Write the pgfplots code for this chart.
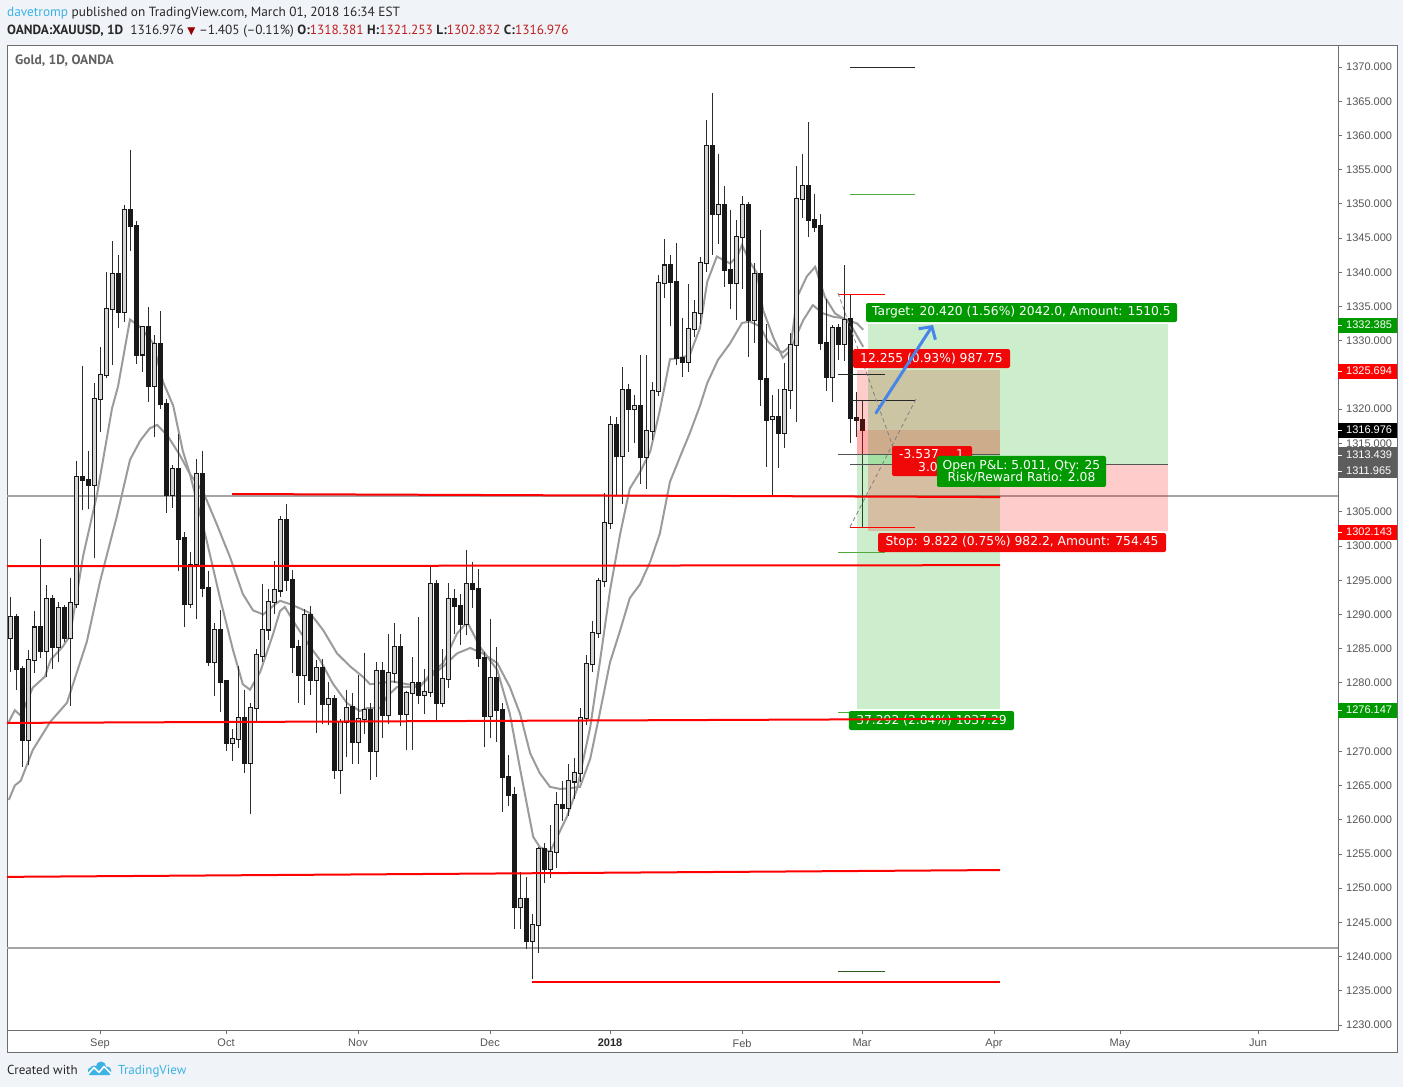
\documentclass[border=0pt]{standalone}
\usepackage{pgfplots}
\pgfplotsset{compat=1.18}
\usepackage{pgfplotstable}
\usepackage{fontspec}
\setmainfont{Liberation Sans}
\newfontfamily\ptsans{PT Sans}
\newfontfamily\dejavu{DejaVu Sans}
\usetikzlibrary{arrows.meta}

\definecolor{bgc}{RGB}{240,243,247}
\definecolor{framec}{RGB}{110,110,110}
\definecolor{tickc}{RGB}{85,85,85}
\definecolor{upfill}{RGB}{212,212,212}
\definecolor{candleline}{RGB}{25,25,25}
\definecolor{wickc}{RGB}{45,45,45}
\definecolor{mac}{RGB}{155,155,155}
\definecolor{hlinegray}{RGB}{165,165,165}
\definecolor{tvred}{RGB}{255,0,0}
\definecolor{tvgreen}{RGB}{0,153,0}
\definecolor{lblred}{RGB}{240,8,8}
\definecolor{shadegreen}{RGB}{0,170,0}
\definecolor{arrowblue}{RGB}{72,133,232}
\definecolor{tvblue}{RGB}{59,179,228}
\definecolor{hdr}{RGB}{40,40,40}
\definecolor{pricered}{RGB}{190,30,30}
\definecolor{darkred}{RGB}{150,0,0}
\definecolor{darkgraylbl}{RGB}{93,93,93}
\definecolor{mkgreen}{RGB}{80,170,60}
\definecolor{mkolive}{RGB}{120,90,0}
\definecolor{mkdkgreen}{RGB}{45,90,30}

\newcommand{\axfont}{\fontsize{11}{12}\selectfont}
\newcommand{\lblfont}{\dejavu\fontsize{12.3}{13.5}\selectfont}
\tikzset{lbl/.style={rounded corners=2pt, text=white, font=\lblfont, minimum height=19pt, inner sep=0pt, anchor=center}}
\pgfplotsset{candle/.style={only marks, mark=*, mark size=0pt, mark options={draw=none, fill=none}}}

\pgfplotstableread{
i o h l c
0 1286.6 1292.6 1281.6 1289.6
1 1289.6 1290.1 1279.0 1282.0
2 1282.0 1282.5 1267.7 1271.6
3 1271.6 1284.8 1268.0 1283.3
4 1283.3 1290.5 1281.5 1288.1
5 1288.1 1301.1 1283.7 1284.7
6 1284.7 1294.3 1280.9 1292.2
7 1292.2 1292.8 1282.0 1285.2
8 1285.2 1291.8 1283.1 1290.9
9 1290.9 1291.4 1286.0 1286.6
10 1286.6 1295.3 1276.6 1291.6
11 1291.6 1312.4 1291.0 1310.1
12 1310.1 1326.3 1305.3 1309.7
13 1309.7 1313.9 1305.4 1308.9
14 1308.9 1323.8 1298.2 1321.5
15 1321.5 1329.1 1316.7 1325.0
16 1325.0 1340.0 1324.5 1334.7
17 1334.7 1344.5 1326.5 1339.7
18 1339.7 1342.6 1331.8 1334.2
19 1334.2 1349.8 1332.8 1349.1
20 1349.1 1357.8 1343.1 1346.8
21 1346.8 1347.5 1326.6 1328.0
22 1328.0 1332.2 1325.5 1332.0
23 1332.0 1335.0 1321.1 1323.4
24 1323.4 1330.9 1315.9 1329.5
25 1329.5 1334.4 1320.1 1320.7
26 1320.7 1321.5 1304.9 1307.4
27 1307.4 1311.8 1305.5 1311.2
28 1311.2 1316.4 1296.3 1301.1
29 1301.1 1302.0 1288.2 1291.5
30 1291.5 1299.1 1291.0 1297.3
31 1297.3 1312.7 1289.4 1310.5
32 1310.5 1313.9 1292.5 1293.9
33 1293.9 1296.3 1282.5 1283.0
34 1283.0 1288.7 1278.1 1287.7
35 1287.7 1290.6 1275.8 1280.2
36 1280.2 1280.5 1270.0 1271.2
37 1271.2 1273.2 1268.6 1271.8
38 1271.8 1282.5 1270.5 1274.8
39 1274.8 1279.0 1266.8 1268.3
40 1268.3 1277.0 1260.9 1276.4
41 1276.4 1285.0 1274.5 1284.0
42 1284.0 1294.5 1283.0 1287.8
43 1287.8 1293.7 1286.3 1291.8
44 1291.8 1297.8 1290.0 1293.5
45 1293.5 1304.4 1292.5 1303.8
46 1303.8 1306.1 1293.5 1295.1
47 1295.1 1296.5 1281.5 1285.2
48 1285.2 1286.3 1277.1 1281.1
49 1281.1 1290.8 1276.8 1289.9
50 1289.9 1291.2 1278.2 1280.4
51 1280.4 1283.4 1272.7 1282.1
52 1282.1 1283.5 1274.0 1276.9
53 1276.9 1280.2 1273.8 1277.6
54 1277.6 1278.2 1266.0 1267.3
55 1267.3 1274.8 1263.8 1274.3
56 1274.3 1279.0 1269.2 1276.4
57 1276.4 1278.5 1268.1 1271.4
58 1271.4 1281.2 1268.2 1274.7
59 1274.7 1284.3 1272.5 1276.0
60 1276.0 1277.0 1265.8 1270.0
61 1270.0 1283.1 1266.3 1281.8
62 1281.8 1283.1 1272.0 1275.3
63 1275.3 1287.2 1274.0 1281.5
64 1281.5 1288.7 1280.0 1285.2
65 1285.2 1287.2 1273.7 1275.4
66 1275.4 1278.8 1270.2 1278.5
67 1278.5 1283.8 1270.2 1280.0
68 1280.0 1289.6 1276.9 1278.2
69 1278.2 1282.0 1275.5 1278.7
70 1278.7 1297.1 1278.0 1294.4
71 1294.4 1295.0 1274.6 1277.0
72 1277.0 1284.9 1276.5 1280.5
73 1280.5 1294.6 1279.3 1292.2
74 1292.2 1293.7 1287.2 1291.2
75 1291.2 1293.0 1285.5 1288.6
76 1288.6 1299.4 1287.0 1294.4
77 1294.4 1297.7 1290.9 1293.7
78 1293.7 1296.7 1282.3 1283.7
79 1283.7 1284.5 1270.6 1275.2
80 1275.2 1289.3 1272.0 1280.7
81 1280.7 1285.3 1271.4 1276.1
82 1276.1 1277.0 1261.2 1266.2
83 1266.2 1269.5 1262.0 1263.6
84 1263.6 1264.8 1244.1 1247.2
85 1247.2 1252.4 1244.1 1248.4
86 1248.4 1251.7 1241.1 1242.3
87 1242.3 1246.3 1236.7 1244.6
88 1244.6 1256.0 1240.5 1255.7
89 1255.7 1256.6 1250.7 1252.8
90 1252.8 1259.2 1251.5 1255.3
91 1255.3 1264.1 1252.9 1262.1
92 1262.1 1265.6 1259.8 1261.7
93 1261.7 1268.1 1260.5 1265.6
94 1265.6 1269.0 1263.1 1266.8
95 1266.8 1276.4 1265.5 1274.9
96 1274.9 1284.0 1273.9 1282.8
97 1282.8 1289.1 1281.6 1287.3
98 1287.3 1295.4 1286.5 1294.9
99 1294.9 1307.8 1294.0 1303.4
100 1303.4 1319.0 1302.5 1317.7
101 1317.7 1318.8 1307.4 1313.2
102 1313.2 1326.2 1306.1 1322.8
103 1322.8 1323.7 1313.8 1320.0
104 1320.0 1322.0 1315.0 1320.4
105 1320.4 1327.9 1309.1 1313.0
106 1313.0 1327.9 1308.4 1316.8
107 1316.8 1324.0 1315.5 1322.7
108 1322.7 1339.6 1321.9 1338.5
109 1338.5 1344.9 1336.3 1341.0
110 1341.0 1342.6 1332.2 1338.6
111 1338.6 1344.3 1326.5 1327.5
112 1327.5 1333.4 1324.7 1326.9
113 1326.9 1338.3 1325.5 1331.7
114 1331.7 1335.9 1330.5 1334.0
115 1334.0 1342.3 1332.5 1341.3
116 1341.3 1362.2 1340.0 1358.5
117 1358.5 1366.2 1342.6 1348.5
118 1348.5 1357.3 1344.2 1349.8
119 1349.8 1352.6 1337.8 1340.4
120 1340.4 1349.1 1334.6 1338.5
121 1338.5 1347.6 1333.1 1345.1
122 1345.1 1351.1 1337.5 1349.8
123 1349.8 1350.3 1327.6 1333.1
124 1333.1 1341.4 1329.6 1339.7
125 1339.7 1346.2 1320.4 1324.4
126 1324.4 1332.4 1311.5 1318.5
127 1318.5 1322.1 1307.3 1318.8
128 1318.8 1322.9 1311.4 1316.5
129 1316.5 1326.7 1314.4 1322.8
130 1322.8 1331.2 1320.0 1329.4
131 1329.4 1355.5 1318.2 1350.7
132 1350.7 1357.3 1348.0 1352.6
133 1352.6 1361.9 1345.1 1347.6
134 1347.6 1351.4 1345.9 1346.7
135 1346.7 1348.5 1328.7 1329.6
136 1329.6 1336.1 1322.6 1324.7
137 1324.7 1332.3 1321.1 1331.8
138 1331.8 1332.4 1327.2 1329.6
139 1329.6 1341.1 1327.0 1333.1
140 1333.1 1336.7 1315.0 1318.7
141 1318.7 1322.5 1315.9 1318.4
142 1318.381 1321.253 1302.832 1316.976
}\candles

\begin{document}
\begin{tikzpicture}
\useasboundingbox (0pt,0pt) rectangle (1403pt,-1087pt);
\begin{scope}[x=1pt,y=-1pt]
  \fill[bgc] (0,0) rectangle (1403,1087);
  \fill[white] (7,45) rectangle (1397,1052);
  \draw[framec, line width=0.8pt] (7,45) rectangle (1397,1052);
\end{scope}

\begin{axis}[
  at={(7pt,-1030pt)}, anchor=south west,
  width=1331pt, height=985pt, scale only axis,
  xmin=-0.5, xmax=221.333, ymin=1229.27, ymax=1373.215,
  clip=false,
  axis line style={draw=framec, line width=0.8pt},
  tick align=outside, major tick length=4pt,
  tick style={draw=framec, line width=0.8pt},
  ytick={1230,1235,...,1270,1280,1285,...,1305,1315,1320,1330,1335,...,1370},
  extra y ticks={1275,1310,1325},
  extra y tick labels={},
  ytick pos=right, yticklabel pos=right,
  yticklabel style={font=\axfont, text=tickc, anchor=west, inner sep=0pt, xshift=4pt,
    /pgf/number format/fixed, /pgf/number format/fixed zerofill,
    /pgf/number format/precision=3, /pgf/number format/1000 sep={},
    /pgf/number format/assume math mode=true},
  xtick={15,36,58,80,100,122,142,164,185,208},
  xticklabels={Sep,Oct,Nov,Dec,\textbf{\textcolor{hdr}{2018}},Feb,Mar,Apr,May,Jun},
  xtick pos=bottom,
  xticklabel style={font=\axfont, text=tickc, anchor=north, inner sep=0pt, yshift=-5pt},
]
% horizontal gray levels
\addplot[hlinegray, line width=2pt] coordinates {(-0.5,1307.25) (221.333,1307.25)};
\addplot[hlinegray, line width=2pt] coordinates {(-0.5,1241.3) (221.333,1241.3)};

% moving averages
\addplot[mac, line width=2pt] coordinates {
(-0.2,1262.9) (0.8,1265.0) (1.8,1265.7) (3.8,1270.2) (6.7,1274.3) (9.5,1277.1) (12.8,1286.0) (15,1294.8) (17.8,1304.3) (20,1312.6) (21.7,1315.4) (23.3,1317.2) (24.5,1317.7) (26.2,1316.2) (28.3,1313.3) (30,1310.5) (32.2,1307.9) (34.5,1303.1) (36.7,1298.3) (38.8,1293.0) (40.5,1290.6) (42.2,1290.0) (43.8,1291.2) (45,1292.0) (46.7,1291.5) (48.3,1290.9) (50,1290.2) (52.2,1287.7) (54.5,1284.3) (56.7,1282.4) (58.8,1280.9) (60,1279.8) (63.8,1280.2) (66.2,1279.8) (68.3,1279.6) (70.5,1281.2) (72.2,1282.4) (74.5,1284.3) (76.7,1285.1) (78.8,1284.3) (81.2,1282.9) (83.3,1279.4) (85,1275.5) (86.7,1269.7) (88.3,1266.8) (90,1264.8) (91.7,1264.5) (93.3,1264.6) (95,1264.8) (96.7,1268.9) (98.3,1275.6) (100,1283.0) (101.7,1287.7) (103.3,1292.4) (105,1294.4) (106.7,1297.7) (108.3,1301.8) (110,1309.4) (111.7,1313.1) (113.3,1316.5) (115,1320.5) (116.2,1323.8) (118,1327.2) (120,1329.6) (122,1332.6) (123.3,1332.8) (125,1332.1) (126.3,1329.9) (127.8,1328.7) (128.8,1328.3) (130.5,1329.6) (132.2,1333.0) (133.8,1335.2) (135.5,1334.0) (137.2,1333.5) (138.8,1333.3) (141.2,1332.5) (142.2,1331.6)
};
\addplot[mac, line width=2pt] coordinates {
(-0.2,1274.3) (0.8,1276.0) (1.8,1275.2) (3.8,1279.3) (5.8,1280.9) (6.8,1283.4) (8.8,1285.3) (10,1286.9) (12.2,1298.6) (14.5,1307.5) (17,1320.1) (18,1323.3) (20,1333.1) (21.7,1332.0) (23.8,1329.7) (25.5,1324.0) (27.2,1320.5) (28.8,1313.9) (30,1310.5) (32.8,1300.7) (35,1292.4) (37.2,1284.7) (38.8,1279.8) (40,1279.0) (41.7,1281.6) (43.8,1287.0) (45,1290.5) (45.8,1291.1) (47.8,1288.2) (50,1285.3) (51.7,1283.3) (53.8,1279.9) (56.2,1277.0) (58.3,1275.9) (59.5,1276.3) (61.7,1276.3) (62.8,1278.0) (64.5,1279.4) (68.3,1279.4) (70,1281.2) (72.2,1282.9) (74.5,1287.2) (76.2,1288.9) (77.2,1287.2) (78.3,1285.3) (81.2,1281.9) (83.3,1275.5) (85,1267.5) (86.2,1262.0) (87.2,1257.5) (88.3,1256.0) (90,1255.3) (91.2,1257.5) (92.8,1260.4) (94.5,1264.5) (96.7,1273.5) (98.3,1283.0) (100,1293.5) (101.7,1301.8) (103.3,1308.4) (105,1310.8) (106.7,1313.8) (108.3,1319.8) (110,1327.3) (111.7,1327.5) (113.3,1327.9) (115,1331.9) (116.2,1338.6) (117.8,1342.3) (120,1341.3) (121.2,1342.3) (122,1344.0) (123.3,1341.5) (124.5,1339.9) (125.5,1334.5) (127.2,1330.5) (128.8,1327.5) (130,1328.5) (131.2,1336.4) (132.8,1339.4) (134.2,1340.8) (135.8,1336.4) (137.5,1334.0) (138.8,1333.3) (140,1332.5) (142.2,1329.1)
};

% candles: wicks, bodies, up-candle fills
\addplot[candle, error bars/.cd, y dir=both, y explicit, error mark=none,
  error bar style={line width=1pt, color=wickc}]
  table[x=i, y expr={(\thisrow{h}+\thisrow{l})/2}, y error expr={(\thisrow{h}-\thisrow{l})/2}] {\candles};
\addplot[candle, error bars/.cd, y dir=both, y explicit, error mark=none,
  error bar style={line width=5pt, color=candleline, line cap=butt}]
  table[x=i, y expr={(\thisrow{o}+\thisrow{c})/2}, y error expr={abs(\thisrow{c}-\thisrow{o})/2+0.15}] {\candles};
\addplot[candle, error bars/.cd, y dir=both, y explicit, error mark=none,
  error bar style={line width=3pt, color=upfill, line cap=butt}]
  table[x=i, y expr={(\thisrow{o}+\thisrow{c})/2}, y error expr={(\thisrow{c}>\thisrow{o})*abs(\thisrow{c}-\thisrow{o})/2}] {\candles};

% position tools shading
\fill[shadegreen, opacity=0.2] (axis cs:141.17,1276.147) rectangle (axis cs:165,1313.439);
\fill[tvred, opacity=0.2] (axis cs:141.17,1313.439) rectangle (axis cs:165,1325.694);
\fill[tvred, opacity=0.15] (axis cs:141.17,1313.439) rectangle (axis cs:165,1316.976);
\fill[shadegreen, opacity=0.2] (axis cs:143,1311.965) rectangle (axis cs:193,1332.385);
\fill[tvred, opacity=0.2] (axis cs:143,1302.143) rectangle (axis cs:193,1311.965);

% short level markers
\draw[hdr, line width=0.8pt] (axis cs:140,1370.0) -- (axis cs:150.83,1370.0);
\draw[mkgreen, line width=0.8pt] (axis cs:140,1351.44) -- (axis cs:150.83,1351.44);
\draw[tvred, line width=0.8pt] (axis cs:138,1336.83) -- (axis cs:145.83,1336.83);
\draw[hdr, line width=0.8pt] (axis cs:138,1325.14) -- (axis cs:145.83,1325.14);
\draw[hdr, line width=0.8pt] (axis cs:140,1321.34) -- (axis cs:150.83,1321.34);
\draw[hdr!80, line width=0.8pt] (axis cs:138,1313.439) -- (axis cs:165,1313.439);
\draw[hdr!80, line width=0.8pt] (axis cs:140,1311.965) -- (axis cs:193,1311.965);
\draw[tvred, line width=0.8pt] (axis cs:140,1302.73) -- (axis cs:150.83,1302.73);
\draw[mkgreen, line width=0.8pt] (axis cs:138,1299.1) -- (axis cs:145.83,1299.1);
\draw[mkgreen, line width=0.8pt] (axis cs:138,1275.7) -- (axis cs:145.83,1275.7);
\draw[mkolive, line width=0.8pt] (axis cs:138,1252.5) -- (axis cs:145.83,1252.5);
\draw[mkdkgreen, line width=0.8pt] (axis cs:138,1237.9) -- (axis cs:145.83,1237.9);
\draw[gray, line width=0.8pt, dash pattern=on 4pt off 3pt] (axis cs:138,1336.97) -- (axis cs:147.17,1314.47);
\draw[gray, line width=0.8pt, dash pattern=on 4pt off 3pt] (axis cs:140,1302.78) -- (axis cs:151.17,1321.78);

% labels
\node[lbl, fill=tvgreen, minimum width=311pt] at (axis cs:168.58,1334.12) {Target: 20.420 (1.56\%) 2042.0, Amount: 1510.5};
\node[lbl, fill=lblred, minimum width=157pt] at (axis cs:153.58,1327.40) {12.255 (0.93\%) 987.75};
\node[lbl, fill=lblred, minimum width=80pt, minimum height=30pt] at (axis cs:153.67,1312.42) {};
\node[text=white, font=\lblfont, inner sep=0pt] at (axis cs:151.5,1313.45) {-3.537};
\node[text=white, font=\lblfont, inner sep=0pt] at (axis cs:158.33,1313.45) {1};
\node[text=white, font=\lblfont, inner sep=0pt] at (axis cs:153.0,1311.55) {3.0};
\node[lbl, fill=tvgreen, minimum width=169pt, minimum height=31pt, align=center, font=\dejavu\fontsize{12.3}{12}\selectfont] at (axis cs:168.58,1310.89) {Open P\&L: 5.011, Qty: 25\\Risk/Reward Ratio: 2.08};
\node[lbl, fill=lblred, minimum width=288pt] at (axis cs:168.67,1300.51) {Stop: 9.822 (0.75\%) 982.2, Amount: 754.45};
\node[lbl, fill=tvgreen, minimum width=165pt] at (axis cs:153.58,1274.50) {37.292 (2.84\%) 1037.29};

% red trend / level lines
\addplot[tvred, line width=2pt] coordinates {(37,1307.6) (165,1307.15)};
\addplot[tvred, line width=2pt] coordinates {(-0.5,1297.05) (165,1297.2)};
\addplot[tvred, line width=2pt] coordinates {(-0.5,1274.15) (165,1274.75)};
\addplot[tvred, line width=2pt] coordinates {(-0.5,1251.65) (165,1252.65)};
\addplot[tvred, line width=2pt] coordinates {(87,1236.35) (165,1236.35)};

% blue arrow
\draw[arrowblue, line width=3pt, line cap=round, -{Straight Barb[length=9pt,width=20pt]}] (axis cs:144.33,1319.44) -- (axis cs:153.83,1332.30);
\end{axis}

\begin{scope}[x=1pt,y=-1pt, plbl/.style={anchor=west, inner sep=0pt, text=white, font=\axfont}]
  % price labels on the scale
  \fill[tvgreen] (1338,317.5) rectangle (1397,332.5);
  \node[plbl] at (1346,325) {1332.385};
  \fill[tvred] (1338,363.5) rectangle (1397,378.5);
  \node[plbl] at (1346,371) {1325.694};
  \fill[black] (1338,422.5) rectangle (1397,437.5);
  \node[plbl] at (1346,430) {1316.976};
  \fill[darkgraylbl] (1338,447) rectangle (1397,478);
  \node[plbl] at (1346,455) {1313.439};
  \node[plbl] at (1346,471) {1311.965};
  \fill[tvred] (1338,524.5) rectangle (1397,539.5);
  \node[plbl] at (1346,532) {1302.143};
  \fill[tvgreen] (1338,702.5) rectangle (1397,717.5);
  \node[plbl] at (1346,710) {1276.147};
  \foreach \yy in {325,371,430,455,471,532,710} \draw[white, line width=0.8pt] (1338,\yy) -- (1342,\yy);

  % header
  \node[anchor=base west, inner sep=0pt, font=\ptsans\fontsize{13.3}{15}\selectfont, text=hdr] at (7,16)
    {\textcolor{tvblue}{davetromp} published on TradingView.com, March 01, 2018 16:34 EST};
  \node[anchor=base west, inner sep=0pt, font=\ptsans\fontsize{13.3}{15}\selectfont, text=hdr] at (7,34)
    {\textbf{OANDA:XAUUSD, 1D}\ \ 1316.976 {\dejavu\fontsize{10.5}{10}\selectfont\textcolor{darkred}{▼}} –1.405 (–0.11\%) \textbf{O:}\textcolor{pricered}{1318.381} \textbf{H:}\textcolor{pricered}{1321.253} \textbf{L:}\textcolor{pricered}{1302.832} \textbf{C:}\textcolor{pricered}{1316.976}};
  \node[anchor=base west, inner sep=0pt, font=\ptsans\bfseries\fontsize{13.5}{15}\selectfont, text=black!62] at (15,64.5) {Gold, 1D, OANDA};

  % footer
  \node[anchor=base west, inner sep=0pt, font=\ptsans\fontsize{13}{15}\selectfont, text=hdr] at (7,1074) {Created with};
  \fill[tvblue] (94,1070) circle (4.5);
  \fill[tvblue] (101,1066.5) circle (5);
  \fill[tvblue] (107,1070.5) circle (4);
  \fill[tvblue, rounded corners=2] (88,1068) rectangle (111,1075);
  \draw[white, line width=1.6pt, line join=round] (88,1074) -- (94,1067.5) -- (99,1072.5) -- (104,1066.5) -- (111,1073.5);
  \node[anchor=base west, inner sep=0pt, font=\ptsans\fontsize{13}{15}\selectfont, text=tvblue] at (118,1074) {TradingView};
\end{scope}
\end{tikzpicture}
\end{document}
